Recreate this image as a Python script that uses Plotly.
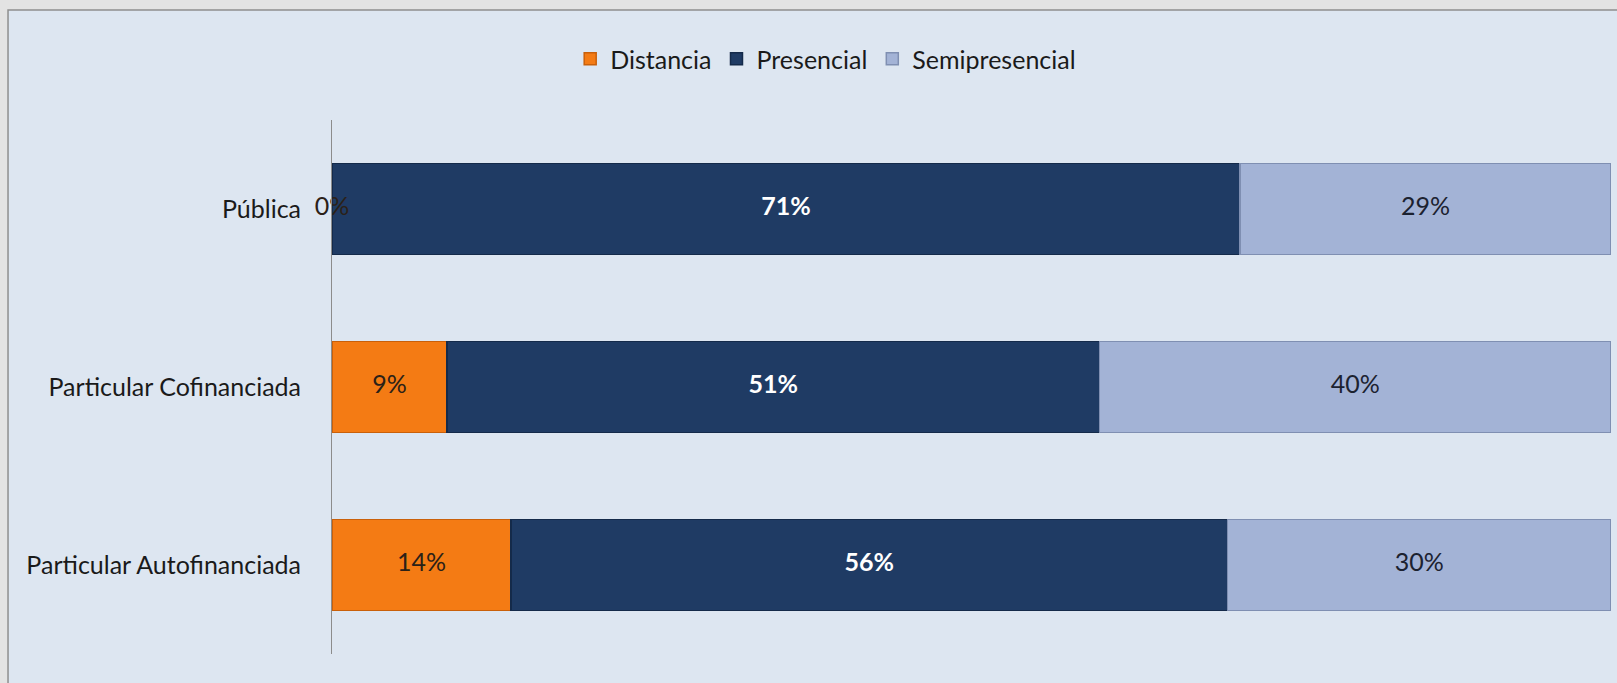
import plotly.graph_objects as go

# values (percent of students by modality)
categories = ["Pública", "Particular Cofinanciada", "Particular Autofinanciada"]
distancia = [0, 9, 14]
presencial = [71, 51, 56]
semipresencial = [29, 40, 30]

series = [
    ("Distancia", distancia, "#F47B14", "#C9600A", "#2B2118", False),
    ("Presencial", presencial, "#1F3B64", "#142A4A", "#FFFFFF", True),
    ("Semipresencial", semipresencial, "#A3B3D6", "#7F8FB2", "#1C2230", False),
]

FONT = "Lato, sans-serif"

fig = go.Figure()

base = [0] * len(categories)
labels = []
for name, vals, color, edge, txtcolor, bold in series:
    fig.add_trace(go.Bar(
        name=name,
        y=categories,
        x=vals,
        orientation="h",
        marker=dict(color=color, line=dict(color=edge, width=1.5)),
        hoverinfo="skip",
    ))
    # label sits at the middle of each segment (0% ends up on the axis)
    mids = [b + v / 2 for b, v in zip(base, vals)]
    labels.append((mids, vals, txtcolor, bold))
    base = [b + v for b, v in zip(base, vals)]

for mids, vals, txtcolor, bold in labels:
    fig.add_trace(go.Scatter(
        x=mids,
        y=categories,
        mode="text",
        text=[f"<b>{v}%</b>" if bold else f"{v}%" for v in vals],
        textposition="middle center",
        textfont=dict(family=FONT, size=25, color=txtcolor),
        showlegend=False,
        cliponaxis=False,
        hoverinfo="skip",
    ))

# chart frame behind everything
fig.add_shape(
    type="rect", xref="paper", yref="paper",
    x0=-0.2533, x1=1.05, y0=-0.2, y1=1.206,
    fillcolor="#DDE6F1", line=dict(color="#8F8F8F", width=1.5),
    layer="below",
)

fig.update_layout(
    width=1617,
    height=683,
    barmode="stack",
    bargap=0.49,
    margin=dict(l=332, r=6, t=120, b=29, autoexpand=False),
    paper_bgcolor="#E3E3E3",
    plot_bgcolor="rgba(0,0,0,0)",
    font=dict(family=FONT, size=25, color="#1A1A1A"),
    legend=dict(
        orientation="h",
        x=0.386, xanchor="center",
        y=1.114, yanchor="middle",
        font=dict(family=FONT, size=25, color="#1A1A1A"),
        itemwidth=30,
        traceorder="normal",
        bgcolor="rgba(0,0,0,0)",
    ),
    showlegend=True,
)
fig.update_xaxes(range=[0, 100], visible=False, fixedrange=True)
fig.update_yaxes(
    categoryorder="array",
    categoryarray=categories,
    autorange="reversed",
    automargin=False,
    showline=True,
    linecolor="#8C8C8C",
    linewidth=1,
    showgrid=False,
    ticks="",
    ticklabelstandoff=25,
    tickfont=dict(family=FONT, size=25, color="#1A1A1A"),
    fixedrange=True,
)

# drop the browser's default 8px body margin so the figure fills the window
fig.write_html(
    "out.html",
    config={"displayModeBar": False},
    post_script="document.body.style.margin = '0';",
)
